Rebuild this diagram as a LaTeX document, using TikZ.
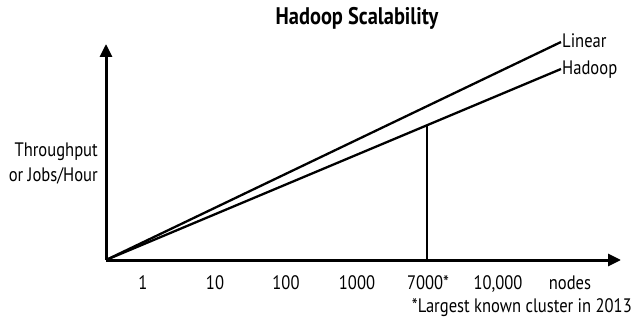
\documentclass[tikz,border=0pt]{standalone}
\usepackage{fontspec}
\setmainfont{PT Sans}[FakeStretch=0.85]
\usetikzlibrary{arrows.meta,positioning}

\begin{document}
\begin{tikzpicture}[x=1pt,y=-1pt,
	axis/.style={line width=3pt,-{Triangle[length=13pt,width=12pt]}},
	curve/.style={line width=2.3pt},
	lbl/.style={font=\fontsize{19.5}{22}\selectfont,inner sep=1pt},
	tick/.style={lbl,anchor=base}]
	\useasboundingbox (0,0) rectangle (635,321);
	% axes
	\coordinate (o) at (106,260);
	\coordinate (ytop) at (106,44);
	\coordinate (xend) at (621,260);
	\draw[axis] (o) -- (ytop);
	\draw[axis] (o) -- (xend);
	% title and axis labels
	\node[font=\bfseries\fontsize{24}{26}\selectfont,anchor=base] (title) at (357,25) {Hadoop Scalability};
	\node[lbl,anchor=base east] (ylbl1) at (99,156) {Throughput};
	\node[lbl,anchor=base east] (ylbl2) at (99,181) {or Jobs/Hour};
	% lines
	\node[lbl,anchor=base west] (linear) at (561,48) {Linear};
	\node[lbl,anchor=base west] (hadoop) at (561,75) {Hadoop};
	\draw[curve] (o) -- (linear.west |- 0,42);
	\draw[curve] (o) -- (hadoop.west |- 0,69);
	\coordinate (cut) at (427,125);
	\draw[curve] (cut) -- (cut |- o);
	% ticks
	\node[tick] (n1) at (143,289) {1};
	\node[tick] (n10) at (215,289) {10};
	\node[tick] (n100) at (286,289) {100};
	\node[tick] (n1000) at (357,289) {1000};
	\node[tick] (n7000) at (428,289) {7000*};
	\node[tick] (n10000) at (498,289) {10,000};
	\node[tick] (nodes) at (570,289) {nodes};
	\node[lbl,anchor=base east] (note) at (633,312) {*Largest known cluster in 2013};
\end{tikzpicture}
\end{document}
